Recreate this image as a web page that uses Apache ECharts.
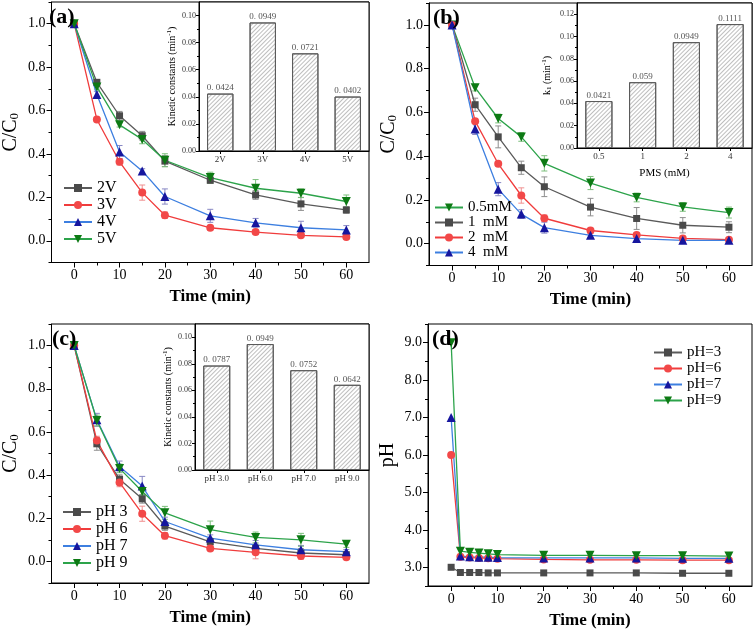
<!DOCTYPE html>
<html><head><meta charset="utf-8">
<script src="https://cdn.jsdelivr.net/npm/echarts@6/dist/echarts.min.js"></script>
<style>html,body{margin:0;padding:0;background:#fff}#c{width:756px;height:634px}</style>
</head><body><div id="c"></div>
<script>
// ---------- DATA ----------
const timeA = [0, 5, 10, 15, 20, 30, 40, 50, 60];
const timeD = [0, 2, 4, 6, 8, 10, 20, 30, 40, 50, 60];
const xTickLabels = [0, 10, 20, 30, 40, 50, 60];
const xMinorTicks = [5, 15, 25, 35, 45, 55];
const cTickLabels = [0, 0.2, 0.4, 0.6, 0.8, 1.0];
const cMinorTicks = [-0.1, 0.1, 0.3, 0.5, 0.7, 0.9, 1.1];
const phTickLabels = [3, 4, 5, 6, 7, 8, 9];
const phMinorTicks = [2.5, 3.5, 4.5, 5.5, 6.5, 7.5, 8.5, 9.5];

// (a) voltage
const a_names = ['2V', '3V', '4V', '5V'];
const a_2V = [1.0, 0.730, 0.576, 0.484, 0.367, 0.279, 0.211, 0.170, 0.142];
const a_3V = [1.0, 0.559, 0.364, 0.222, 0.118, 0.060, 0.040, 0.025, 0.018];
const a_4V = [1.0, 0.674, 0.409, 0.322, 0.204, 0.115, 0.083, 0.060, 0.050];
const a_5V = [1.0, 0.709, 0.534, 0.467, 0.371, 0.291, 0.242, 0.219, 0.181];
const a_err2V = [0, 0.01, 0.02, 0.02, 0.025, 0.015, 0.02, 0.03, 0.015];
const a_err3V = [0, 0.01, 0.015, 0.035, 0.015, 0.01, 0.01, 0.01, 0.01];
const a_err4V = [0, 0.015, 0.03, 0.01, 0.035, 0.03, 0.02, 0.03, 0.02];
const a_err5V = [0, 0.01, 0.01, 0.02, 0.03, 0.025, 0.04, 0.02, 0.03];
const a_barCats = ['2V', '3V', '4V', '5V'];
const a_barVals = [0.0424, 0.0949, 0.0721, 0.0402];
const a_barLabels = ['0. 0424', '0. 0949', '0. 0721', '0. 0402'];
const a_barTicks = [0, 0.02, 0.04, 0.06, 0.08, 0.10];
const a_barMinor = [0.01, 0.03, 0.05, 0.07, 0.09];

// (b) PMS
const b_names = ['0.5mM', '1  mM', '2  mM', '4  mM'];
const b_05 = [1.0, 0.713, 0.572, 0.488, 0.367, 0.277, 0.211, 0.168, 0.142];
const b_1 = [1.0, 0.635, 0.488, 0.347, 0.260, 0.167, 0.115, 0.084, 0.075];
const b_2 = [1.0, 0.560, 0.365, 0.220, 0.116, 0.060, 0.040, 0.024, 0.018];
const b_4 = [1.0, 0.524, 0.249, 0.135, 0.073, 0.038, 0.023, 0.015, 0.015];
const b_err05 = [0, 0.015, 0.02, 0.02, 0.035, 0.03, 0.02, 0.02, 0.025];
const b_err1 = [0, 0.03, 0.05, 0.03, 0.045, 0.04, 0.05, 0.035, 0.025];
const b_err2 = [0, 0.01, 0.01, 0.035, 0.015, 0.01, 0.01, 0.01, 0.01];
const b_err4 = [0, 0.025, 0.03, 0.02, 0.025, 0.01, 0.015, 0.01, 0.01];
const b_barCats = ['0.5', '1', '2', '4'];
const b_barVals = [0.0421, 0.059, 0.0949, 0.1111];
const b_barLabels = ['0.0421', '0.059', '0.0949', '0.1111'];
const b_barTicks = [0, 0.02, 0.04, 0.06, 0.08, 0.10, 0.12];
const b_barMinor = [0.01, 0.03, 0.05, 0.07, 0.09, 0.11];

// (c) initial pH
const c_names = ['pH 3', 'pH 6', 'pH 7', 'pH 9'];
const c_3 = [1.0, 0.545, 0.381, 0.290, 0.164, 0.091, 0.060, 0.039, 0.031];
const c_6 = [1.0, 0.560, 0.366, 0.221, 0.119, 0.060, 0.042, 0.025, 0.019];
const c_7 = [1.0, 0.656, 0.440, 0.349, 0.185, 0.108, 0.077, 0.054, 0.045];
const c_9 = [1.0, 0.653, 0.431, 0.324, 0.225, 0.147, 0.111, 0.100, 0.080];
const c_err3 = [0, 0.03, 0.02, 0.02, 0.02, 0.015, 0.02, 0.02, 0.01];
const c_err6 = [0, 0.02, 0.02, 0.035, 0.015, 0.01, 0.03, 0.015, 0.01];
const c_err7 = [0, 0.03, 0.025, 0.045, 0.02, 0.015, 0.02, 0.02, 0.01];
const c_err9 = [0, 0.025, 0.02, 0.02, 0.03, 0.04, 0.025, 0.03, 0.015];
const c_barCats = ['pH 3.0', 'pH 6.0', 'pH 7.0', 'pH 9.0'];
const c_barVals = [0.0787, 0.0949, 0.0752, 0.0642];
const c_barLabels = ['0. 0787', '0. 0949', '0. 0752', '0. 0642'];

// (d) pH evolution
const d_names = ['pH=3', 'pH=6', 'pH=7', 'pH=9'];
const d_3 = [3.00, 2.86, 2.86, 2.86, 2.85, 2.85, 2.85, 2.85, 2.85, 2.84, 2.84];
const d_6 = [6.00, 3.28, 3.26, 3.25, 3.24, 3.23, 3.21, 3.20, 3.20, 3.19, 3.19];
const d_7 = [7.00, 3.30, 3.28, 3.27, 3.27, 3.26, 3.25, 3.25, 3.25, 3.24, 3.24];
const d_9 = [9.00, 3.43, 3.40, 3.38, 3.36, 3.34, 3.32, 3.32, 3.31, 3.31, 3.30];

// ---------- STYLE ----------
const FONT = 'Liberation Serif';
const STY = {
  gray:  {line: '#5a5a5a', item: '#4a4a4a', err: '#8e8e8e', symbol: 'rect', size: 7},
  red:   {line: '#f03c3c', item: '#f24848', err: '#f09090', symbol: 'circle', size: 8},
  blue:  {line: '#3d7fe0', item: '#16169e', err: '#8888c4', symbol: 'triangle', size: 9},
  green: {line: '#2ca34a', item: '#0d7a14', err: '#7cbf7c', symbol: 'path://M0,0 L10,0 L5,9 Z', size: 9}
};

const grids = [];
const xAxes = [];
const yAxes = [];
const series = [];
const legends = [];
const titles = [];

function tickAxisBase() {
  return {
    axisLine: {show: true, onZero: false, lineStyle: {color: '#000', width: 1}},
    splitLine: {show: false}
  };
}

function addMainPanel(box, yMin, yMax, yLabels, yMinor, yFmt, yName, letter) {
  const g = grids.length;
  grids.push(Object.assign({show: true, borderColor: '#000', borderWidth: 1, backgroundColor: 'transparent'}, box));
  const xi = xAxes.length;
  xAxes.push(Object.assign(tickAxisBase(), {
    gridIndex: g, type: 'value', position: 'bottom', min: -5, max: 65,
    axisTick: {show: true, length: 5, customValues: xTickLabels, lineStyle: {color: '#000'}},
    axisLabel: {customValues: xTickLabels, fontFamily: FONT, fontSize: 14, color: '#000', margin: 6},
    name: 'Time (min)', nameLocation: 'middle', nameGap: 26,
    nameTextStyle: {fontFamily: FONT, fontSize: 17, fontWeight: 'bold', color: '#000'}
  }));
  xAxes.push({
    gridIndex: g, type: 'value', position: 'bottom', min: -5, max: 65,
    axisLine: {show: false, onZero: false}, splitLine: {show: false},
    axisTick: {show: true, length: 3, customValues: xMinorTicks, lineStyle: {color: '#000'}},
    axisLabel: {show: false}
  });
  const yi = yAxes.length;
  yAxes.push(Object.assign(tickAxisBase(), {
    gridIndex: g, type: 'value', position: 'left', min: yMin, max: yMax,
    axisTick: {show: true, length: 5, customValues: yLabels, lineStyle: {color: '#000'}},
    axisLabel: {customValues: yLabels, fontFamily: FONT, fontSize: 14, color: '#000', margin: 6, formatter: yFmt},
    name: yName, nameLocation: 'middle', nameGap: 30,
    nameTextStyle: {fontFamily: FONT, fontSize: 20, color: '#000',
      rich: {a: {fontFamily: FONT, fontSize: 20, color: '#000'}, s: {fontFamily: FONT, fontSize: 13, color: '#000', verticalAlign: 'bottom', padding: [8, 0, 0, 0]}}}
  }));
  yAxes.push({
    gridIndex: g, type: 'value', position: 'left', min: yMin, max: yMax,
    axisLine: {show: false, onZero: false}, splitLine: {show: false},
    axisTick: {show: true, length: 3, customValues: yMinor, lineStyle: {color: '#000'}},
    axisLabel: {show: false}
  });
  titles.push({text: letter, left: box.left - 1, top: box.top - 1,
    textStyle: {fontFamily: FONT, fontSize: 22, fontWeight: 'bold', color: '#000'}});
  return {xi, yi};
}

function addLine(ax, name, xs, ys, sty, errs) {
  if (errs) {
    series.push({
      type: 'custom', xAxisIndex: ax.xi, yAxisIndex: ax.yi, z: 1, silent: true,
      data: xs.map((x, i) => [x, ys[i] - errs[i], ys[i] + errs[i]]).filter((d, i) => errs[i] > 0),
      renderItem: function (params, api) {
        const lo = api.coord([api.value(0), api.value(1)]);
        const hi = api.coord([api.value(0), api.value(2)]);
        const w = 3;
        const st = {stroke: sty.err, lineWidth: 1};
        return {type: 'group', children: [
          {type: 'line', shape: {x1: lo[0], y1: lo[1], x2: hi[0], y2: hi[1]}, style: st},
          {type: 'line', shape: {x1: lo[0] - w, y1: lo[1], x2: lo[0] + w, y2: lo[1]}, style: st},
          {type: 'line', shape: {x1: hi[0] - w, y1: hi[1], x2: hi[0] + w, y2: hi[1]}, style: st}
        ]};
      }
    });
  }
  series.push({
    type: 'line', name: name, xAxisIndex: ax.xi, yAxisIndex: ax.yi, z: 3,
    data: xs.map((x, i) => [x, ys[i]]),
    symbol: sty.symbol, symbolSize: sty.size, showAllSymbol: true,
    lineStyle: {color: sty.line, width: 1.3},
    itemStyle: {color: sty.item},
    emphasis: {disabled: true}
  });
}

function addLegend(names, left, top, gap, fontSize) {
  legends.push({
    data: names, orient: 'vertical', left: left, top: top, itemGap: gap,
    itemWidth: 28, itemHeight: 10, padding: 0, selectedMode: false,
    textStyle: {fontFamily: FONT, fontSize: fontSize, color: '#000', lineHeight: fontSize}
  });
}

const decal = {symbol: 'rect', symbolSize: 1, color: 'rgba(110,110,110,0.45)',
  dashArrayX: [1, 0], dashArrayY: [1, 2], rotation: -Math.PI / 4};

function addInset(box, cats, vals, labels, yMax, yTicks, yMinor, yName, yNameGap, xName) {
  const g = grids.length;
  grids.push(Object.assign({show: true, borderColor: '#000', borderWidth: 1, backgroundColor: '#fff', z: 4}, box));
  const xi = xAxes.length;
  xAxes.push({
    gridIndex: g, type: 'category', data: cats, position: 'bottom', z: 5,
    axisLine: {show: true, onZero: false, lineStyle: {color: '#000'}},
    axisTick: {show: true, alignWithLabel: true, length: 3, lineStyle: {color: '#000'}},
    axisLabel: {fontFamily: FONT, fontSize: 9, color: '#333', margin: 4},
    name: xName || '', nameLocation: 'middle', nameGap: 20,
    nameTextStyle: {fontFamily: FONT, fontSize: 11, color: '#000'}
  });
  const yi = yAxes.length;
  yAxes.push({
    gridIndex: g, type: 'value', min: 0, max: yMax, position: 'left', z: 5,
    axisLine: {show: true, onZero: false, lineStyle: {color: '#000'}}, splitLine: {show: false},
    axisTick: {show: true, length: 3, customValues: yTicks, lineStyle: {color: '#000'}},
    axisLabel: {customValues: yTicks, fontFamily: FONT, fontSize: 8, color: '#333', margin: 3,
      formatter: v => v.toFixed(2)},
    name: yName, nameLocation: 'middle', nameGap: yNameGap,
    nameTextStyle: {fontFamily: FONT, fontSize: 10, color: '#000',
      rich: {a: {fontFamily: FONT, fontSize: 10, color: '#000'},
             s: {fontFamily: FONT, fontSize: 7, color: '#000', verticalAlign: 'bottom', padding: [5, 0, 0, 0]},
             p: {fontFamily: FONT, fontSize: 7, color: '#000', verticalAlign: 'top', padding: [0, 0, 5, 0]}}}
  });
  yAxes.push({
    gridIndex: g, type: 'value', min: 0, max: yMax, position: 'left', z: 5,
    axisLine: {show: false, onZero: false}, splitLine: {show: false},
    axisTick: {show: true, length: 2, customValues: yMinor, lineStyle: {color: '#000'}},
    axisLabel: {show: false}
  });
  series.push({
    type: 'bar', xAxisIndex: xi, yAxisIndex: yi, z: 6, data: vals, barWidth: '62%',
    itemStyle: {color: '#fff', borderColor: '#5a5a5a', borderWidth: 1, decal: decal},
    label: {show: true, position: 'top', distance: 1, fontFamily: FONT, fontSize: 9, color: '#555',
      formatter: p => labels[p.dataIndex]},
    emphasis: {disabled: true}
  });
}

const fmt1 = v => v.toFixed(1);

// (a)
const axA = addMainPanel({left: 45, top: 2, width: 324, height: 260.5}, -0.1, 1.1, cTickLabels, cMinorTicks, fmt1, '{a|C/C}{s|0}', '(a)');
addLine(axA, a_names[0], timeA, a_2V, STY.gray, a_err2V);
addLine(axA, a_names[1], timeA, a_3V, STY.red, a_err3V);
addLine(axA, a_names[2], timeA, a_4V, STY.blue, a_err4V);
addLine(axA, a_names[3], timeA, a_5V, STY.green, a_err5V);
addLegend(a_names, 63, 180, 1, 16);
addInset({left: 199, top: 2, width: 170, height: 149}, a_barCats, a_barVals, a_barLabels, 0.11, a_barTicks, a_barMinor,
  '{a|Kinetic constants (min}{p|-1}{a|)}', 21);

// (b)
const axB = addMainPanel({left: 429, top: 3, width: 323, height: 262.5}, -0.1, 1.1, cTickLabels, cMinorTicks, fmt1, '{a|C/C}{s|0}', '(b)');
addLine(axB, b_names[0], timeA, b_05, STY.green, b_err05);
addLine(axB, b_names[1], timeA, b_1, STY.gray, b_err1);
addLine(axB, b_names[2], timeA, b_2, STY.red, b_err2);
addLine(axB, b_names[3], timeA, b_4, STY.blue, b_err4);
addLegend(b_names, 434, 200, 0, 15);
addInset({left: 577, top: 3, width: 175, height: 145}, b_barCats, b_barVals, b_barLabels, 0.13, b_barTicks, b_barMinor,
  '{a|k}{s|1}{a| (min}{p|-1}{a|)}', 24, 'PMS (mM)');

// (c)
const axC = addMainPanel({left: 48, top: 324, width: 321, height: 259}, -0.1, 1.1, cTickLabels, cMinorTicks, fmt1, '{a|C/C}{s|0}', '(c)');
addLine(axC, c_names[0], timeA, c_3, STY.gray, c_err3);
addLine(axC, c_names[1], timeA, c_6, STY.red, c_err6);
addLine(axC, c_names[2], timeA, c_7, STY.blue, c_err7);
addLine(axC, c_names[3], timeA, c_9, STY.green, c_err9);
addLegend(c_names, 62, 504, 1, 16);
addInset({left: 195, top: 324, width: 174, height: 146}, c_barCats, c_barVals, c_barLabels, 0.11, a_barTicks, a_barMinor,
  '{a|Kinetic constants (min}{p|-1}{a|)}', 21);

// (d)
const axD = addMainPanel({left: 428, top: 324, width: 324, height: 262}, 2.5, 9.5, phTickLabels, phMinorTicks, fmt1, '{a|pH}', '(d)');
addLine(axD, d_names[0], timeD, d_3, STY.gray, null);
addLine(axD, d_names[1], timeD, d_6, STY.red, null);
addLine(axD, d_names[2], timeD, d_7, STY.blue, null);
addLine(axD, d_names[3], timeD, d_9, STY.green, null);
addLegend(d_names, 653, 345, 1, 15);

const chart = echarts.init(document.getElementById('c'), null, {renderer: 'canvas'});
chart.setOption({
  animation: false,
  backgroundColor: '#fff',
  title: titles,
  legend: legends,
  grid: grids,
  xAxis: xAxes,
  yAxis: yAxes,
  series: series
});
</script>
</body></html>
